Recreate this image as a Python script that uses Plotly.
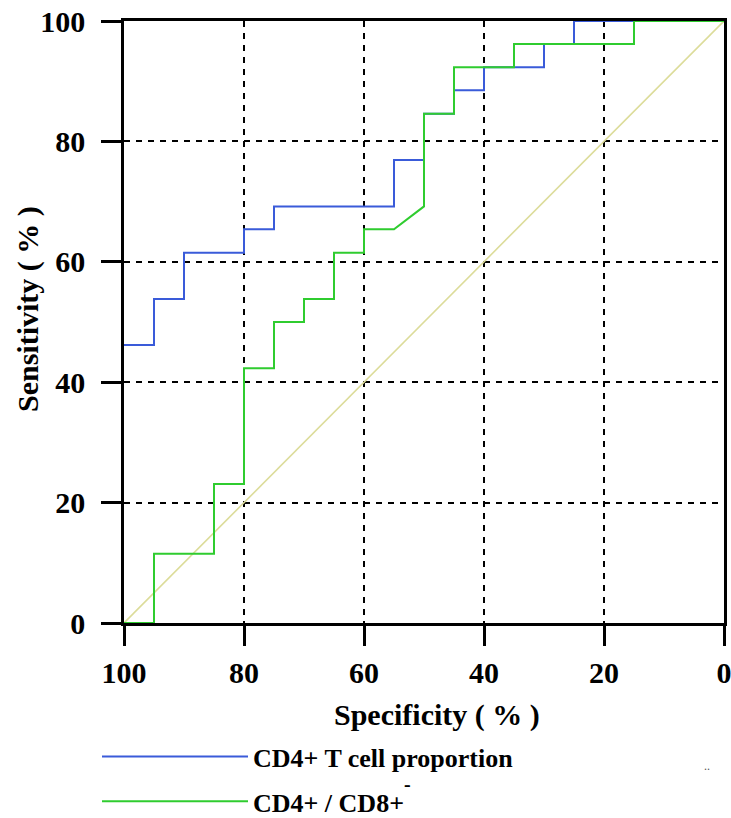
import plotly.graph_objects as go

# ROC vertices (specificity %, sensitivity %)
cd4_spec = [100, 95, 95, 90, 90, 80, 80, 75, 75, 55, 55, 50, 50, 45, 45, 40, 40, 30, 30, 25, 25, 0]
cd4_sens = [46.2, 46.2, 53.8, 53.8, 61.5, 61.5, 65.4, 65.4, 69.2, 69.2, 76.9, 76.9, 84.6, 84.6, 88.5, 88.5,
            92.3, 92.3, 96.2, 96.2, 100, 100]

ratio_spec = [100, 95, 95, 85, 85, 80, 80, 75, 75, 70, 70, 65, 65, 60, 60, 55, 50, 50, 45, 45, 35, 35, 15, 15, 0]
ratio_sens = [0, 0, 11.5, 11.5, 23.1, 23.1, 42.3, 42.3, 50, 50, 53.8, 53.8, 61.5, 61.5, 65.4, 65.4, 69.2,
              84.6, 84.6, 92.3, 92.3, 96.2, 96.2, 100, 100]

ref_spec = [100, 0]
ref_sens = [0, 100]

tick_vals = [100, 80, 60, 40, 20, 0]
series_names = ["CD4+ T cell proportion", "CD4+ / CD8+"]

FONT = "Liberation Serif, Times New Roman, Times, serif"

fig = go.Figure()
fig.add_trace(go.Scatter(x=ref_spec, y=ref_sens, mode="lines",
                         line=dict(color="#dcdc9a", width=1.6), showlegend=False, hoverinfo="skip"))
fig.add_trace(go.Scatter(x=cd4_spec, y=cd4_sens, mode="lines", name=series_names[0],
                         legendgroup="a", line=dict(color="#3a5bd9", width=2)))
fig.add_trace(go.Scatter(x=ratio_spec, y=ratio_sens, mode="lines", name=series_names[1],
                         legendgroup="b", line=dict(color="#2fcc2f", width=2)))

axis_common = dict(
    showgrid=True, gridcolor="black", gridwidth=2, griddash="6px,6px",
    showline=True, linecolor="black", linewidth=2.5, mirror=True,
    ticks="outside", ticklen=20, tickwidth=2.5, tickcolor="black",
    tickfont=dict(family=FONT, size=30, color="black", weight="bold"),
    zeroline=False, tickvals=tick_vals, automargin=False, ticklabeloverflow="allow",
)

fig.update_xaxes(range=[100, 0], ticklabelstandoff=1, **axis_common)
fig.update_yaxes(range=[0, 100], ticklabelstandoff=10, **axis_common)

fig.update_layout(
    width=731, height=818,
    margin=dict(l=124, r=7, t=21, b=195, autoexpand=False),
    paper_bgcolor="white", plot_bgcolor="white",
    showlegend=True,
    legend=dict(x=-0.045, y=-0.183, xanchor="left", yanchor="top",
                font=dict(family=FONT, size=26, color="black", weight="bold"),
                itemwidth=146, tracegroupgap=8, bgcolor="rgba(0,0,0,0)",
                traceorder="grouped"),
    annotations=[
        dict(text="Specificity ( % )", xref="paper", yref="paper", x=0.5217, y=-0.1528,
             xanchor="center", yanchor="middle", showarrow=False,
             font=dict(family=FONT, size=30, color="black", weight="bold")),
        dict(text="Sensitivity ( % )", xref="paper", yref="paper", x=-0.16, y=0.5216,
             xanchor="center", yanchor="middle", showarrow=False, textangle=-90,
             font=dict(family=FONT, size=30, color="black", weight="bold")),
        dict(text="-", xref="paper", yref="paper", x=(407 - 124) / 600, y=(623 - 784) / 602,
             xanchor="center", yanchor="middle", showarrow=False,
             font=dict(family=FONT, size=20, color="black", weight="bold")),
        dict(text="..", xref="paper", yref="paper", x=(707 - 124) / 600, y=(623 - 766) / 602,
             xanchor="center", yanchor="middle", showarrow=False,
             font=dict(family=FONT, size=12, color="#555555")),
    ],
)

fig.write_html("out.html")
